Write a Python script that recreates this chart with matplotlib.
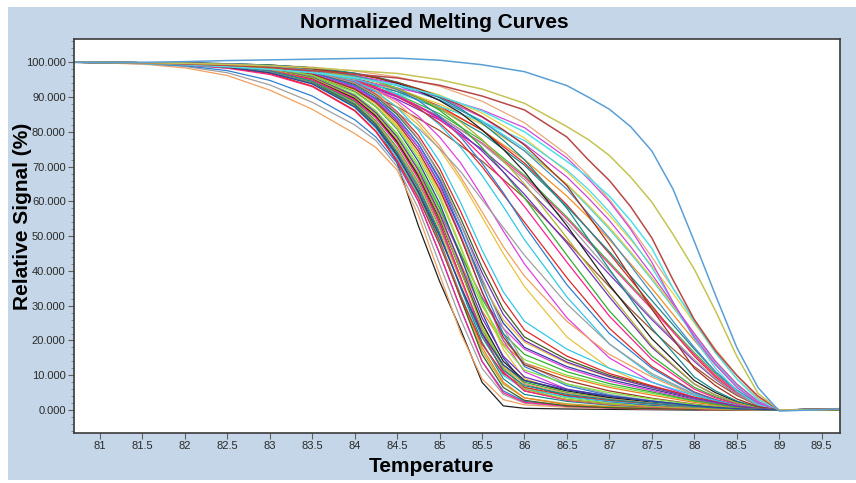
import matplotlib
matplotlib.use('Agg')
import matplotlib.pyplot as plt
from matplotlib.patches import Rectangle
from matplotlib.ticker import MultipleLocator


# temperature grid the early curves were read at
temps = [80.7, 81.5, 82.0, 82.5, 83.0, 83.5, 84.0, 84.25, 84.5, 84.75, 85.0, 85.25,
         85.5, 85.75, 86.0, 86.5, 87.0, 87.5, 88.0, 88.25, 88.5, 88.75, 89.0, 89.7]

# finer grid on the right for the late curves
late_temps = [80.7, 81.5, 82.0, 82.5, 83.0, 83.5, 84.0, 84.5, 85.0, 85.5, 86.0, 86.5,
              86.75, 87.0, 87.25, 87.5, 87.75, 88.0, 88.25, 88.5, 88.75, 89.0, 89.7]

# steep bundle, melting around 84.8 - 85.3
steep_curves = [
	[100, 99.8, 99.4, 98.6, 97.2, 94.5, 88.5, 82, 71, 53, 37, 23, 8, 1.2, 0.5, 0.3, 0.2, 0.1, 0, 0, 0, 0, 0, 0.1],
	[100, 99.5, 98.4, 96.2, 92, 86.5, 79.5, 75.5, 69, 56, 39, 22, 9, 3, 1.5, 0.8, 0.5, 0.3, 0.2, 0.1, 0, 0, 0, 0.2],
	[100, 99.6, 98.8, 97, 93.5, 88.5, 82, 77.5, 70, 58, 42, 26, 12, 4.5, 2, 1, 0.6, 0.4, 0.2, 0.1, 0, 0, 0, 0.3],
	[100, 99.7, 99.0, 97.6, 94.8, 90.3, 83.5, 78.5, 71, 60, 45, 29, 14, 5.5, 2.5, 1.2, 0.7, 0.4, 0.2, 0.1, 0, 0, 0, 0.4],
	[100, 99.8, 99.3, 98.3, 96.5, 93, 86, 80, 71.5, 60, 45, 29, 14, 5, 2.2, 1.1, 0.6, 0.3, 0.2, 0.1, 0, 0, 0, 0.2],
	[100, 99.8, 99.4, 98.6, 97, 94, 87.5, 81.5, 73, 62, 48, 32, 17, 7.5, 3.5, 1.8, 1, 0.6, 0.3, 0.2, 0.1, 0, 0, 0.3],
	[100, 99.9, 99.5, 98.8, 97.4, 94.7, 88.8, 83, 75, 64.5, 51, 35, 19.5, 9, 4.5, 2.5, 1.4, 0.8, 0.4, 0.2, 0.1, 0, 0, 0.1],
	[100, 99.9, 99.6, 99, 97.8, 95.3, 89.8, 84.5, 77, 67, 54, 38, 22, 11, 5.5, 3, 1.8, 1, 0.5, 0.3, 0.2, 0.1, 0, 0.4],
	[100, 99.9, 99.6, 99.1, 98.1, 95.8, 90.8, 86, 79, 69.5, 57, 41, 25, 12.5, 6.5, 3.5, 2, 1.2, 0.6, 0.4, 0.2, 0.1, 0, 0.2],
	[100, 99.9, 99.7, 99.2, 98.3, 96.2, 91.6, 87.2, 80.8, 71.5, 59.5, 44, 28, 15, 7.5, 4, 2.4, 1.4, 0.7, 0.4, 0.2, 0.1, 0, 0.3],
	[100, 99.9, 99.6, 99.0, 97.6, 94.8, 88.2, 82.5, 74, 63, 49, 33, 18, 8, 3.5, 1.5, 0.8, 0.5, 0.2, 0.1, 0, 0, 0, 0.2],
	[100, 99.8, 99.5, 98.8, 97.3, 94.2, 87.8, 82, 73.5, 62.5, 48.5, 32, 16, 6.5, 2.8, 1.2, 0.7, 0.4, 0.2, 0.1, 0, 0, 0, 0.1],
	[100, 99.9, 99.7, 99.3, 98.5, 96.5, 92, 88, 82, 73.5, 62, 47, 31, 17.5, 9, 5, 3, 1.8, 0.9, 0.5, 0.3, 0.1, 0, 0.3],
	[100, 99.9, 99.8, 99.4, 98.7, 96.9, 92.8, 89, 83.5, 75.5, 64.5, 50, 34, 20, 11, 6, 3.5, 2.1, 1, 0.6, 0.3, 0.1, 0, 0.2],
	[100, 99.9, 99.5, 98.7, 97.1, 93.8, 87, 81, 72.5, 61.5, 48, 33, 19, 10, 6, 3.8, 2.5, 1.6, 0.8, 0.5, 0.3, 0.1, 0, 0.4],
	[100, 99.8, 99.4, 98.5, 96.8, 93.2, 86.2, 80.2, 71.8, 61, 47.5, 32.5, 19, 10.5, 6.5, 4.2, 2.8, 1.8, 0.9, 0.6, 0.3, 0.1, 0, 0.2],
	[100, 99.9, 99.6, 98.9, 97.6, 94.6, 88.6, 83.2, 75.5, 65.5, 52.5, 37.5, 23, 13, 8, 5, 3.3, 2.1, 1.1, 0.7, 0.4, 0.2, 0, 0.3],
	[100, 99.9, 99.7, 99.2, 98.2, 95.7, 90.4, 85.5, 78.5, 69, 56.5, 41.5, 26.5, 15.5, 9.5, 6, 4, 2.5, 1.3, 0.8, 0.4, 0.2, 0, 0.2],
	[100, 99.9, 99.7, 99.2, 98.0, 95.3, 89.6, 84.5, 77.2, 67.5, 55, 40, 25, 14, 8.5, 5.5, 3.6, 2.3, 1.2, 0.7, 0.4, 0.2, 0, 0.1],
	[100, 99.8, 99.5, 98.8, 97.4, 94.4, 88.3, 82.8, 75, 65, 52, 37, 22.5, 12.5, 7.5, 4.8, 3.2, 2, 1, 0.6, 0.3, 0.1, 0, 0.3],
	[100, 99.9, 99.8, 99.5, 98.9, 97.4, 94, 90.5, 85.5, 78, 67.5, 53.5, 38, 23.5, 13.5, 7.5, 4.5, 2.7, 1.3, 0.8, 0.4, 0.2, 0, 0.2],
	[100, 99.9, 99.8, 99.5, 98.8, 97.1, 93.3, 89.6, 84.2, 76.5, 66, 52, 36, 22, 12.5, 7, 4.2, 2.5, 1.2, 0.7, 0.4, 0.2, 0, 0.3],
	[100, 99.9, 99.6, 99.0, 97.8, 95.0, 89.2, 84, 76.5, 66.5, 53.5, 38, 22, 11, 5.5, 2.8, 1.6, 0.9, 0.4, 0.2, 0.1, 0, 0, 0.2],
	[100, 99.9, 99.7, 99.1, 98.0, 95.5, 90, 85, 77.8, 68, 55.5, 40, 24, 12, 6, 3, 1.7, 1, 0.5, 0.3, 0.1, 0, 0, 0.1],
	[100, 99.8, 99.5, 98.9, 97.5, 94.5, 88, 82.3, 74.2, 63.8, 50.5, 35.5, 21, 11.5, 7, 4.5, 3, 1.9, 1, 0.6, 0.3, 0.1, 0, 0.4],
	[100, 99.9, 99.8, 99.4, 98.6, 96.6, 92.3, 88.4, 82.6, 74.5, 63.5, 49.5, 34, 21, 13, 8.5, 5.5, 3.4, 1.7, 1, 0.5, 0.2, 0, 0.3],
	[100, 99.9, 99.7, 99.3, 98.4, 96.2, 91.4, 87.2, 81, 72.5, 61, 46.5, 31, 18.5, 11.5, 7.5, 5, 3.2, 1.6, 1, 0.5, 0.2, 0, 0.2],
	[100, 99.8, 99.4, 98.6, 97, 93.8, 87.2, 81.4, 73.2, 62.8, 50, 35.5, 22, 13, 8.5, 5.8, 4, 2.6, 1.3, 0.8, 0.4, 0.2, 0, 0.3],
]

# steep start but long tails near the floor
tail_curves = [
	[100, 99.9, 99.7, 99.2, 98.2, 95.8, 90.6, 86, 79.5, 70.5, 58.5, 44, 30, 20, 14.5, 10, 7, 4.8, 2.5, 1.6, 0.8, 0.3, 0, 0.3],
	[100, 99.9, 99.8, 99.4, 98.6, 96.8, 92.6, 88.8, 83.2, 75.5, 65, 51.5, 37, 25, 18, 12.5, 8.8, 6, 3.2, 2, 1, 0.4, 0, 0.2],
	[100, 99.9, 99.6, 99.0, 97.8, 95.0, 89.4, 84.4, 77.4, 68, 56, 42, 28.5, 19, 13.5, 9.5, 6.5, 4.3, 2.2, 1.4, 0.7, 0.3, 0, 0.4],
	[100, 99.9, 99.8, 99.5, 98.8, 97.2, 93.6, 90.2, 85, 77.8, 68, 55, 41, 29, 21, 14.5, 10, 6.8, 3.6, 2.3, 1.2, 0.5, 0, 0.3],
	[100, 99.9, 99.7, 99.3, 98.4, 96.3, 91.6, 87.4, 81.5, 73.5, 63, 50, 36.5, 26, 19.5, 13.5, 9.5, 6.5, 3.4, 2.2, 1.1, 0.4, 0, 0.2],
	[100, 99.8, 99.5, 98.9, 97.6, 94.8, 89, 84, 77, 68, 57, 44.5, 32.5, 23.5, 17.5, 12, 8.3, 5.6, 2.9, 1.8, 0.9, 0.3, 0, 0.1],
	[100, 99.9, 99.8, 99.6, 99.0, 97.7, 94.6, 91.6, 87, 80.5, 71.5, 59.5, 46, 34, 25.5, 17.5, 12, 8, 4.2, 2.7, 1.4, 0.5, 0, 0.3],
	[100, 99.9, 99.8, 99.5, 98.9, 97.4, 94, 90.8, 85.8, 79, 69.5, 57, 43.5, 31.5, 23, 15.5, 10.5, 7, 3.7, 2.4, 1.2, 0.5, 0, 0.2],
	[100, 99.9, 99.7, 99.2, 98.1, 95.6, 90.2, 85.4, 78.6, 69.6, 58, 45, 32, 22, 16, 11, 7.6, 5.2, 2.7, 1.7, 0.9, 0.3, 0, 0.3],
	[100, 99.9, 99.8, 99.4, 98.7, 97.0, 93, 89.4, 84, 76.6, 66.5, 53.5, 39.5, 27.5, 20, 13.8, 9.6, 6.5, 3.4, 2.2, 1.1, 0.4, 0, 0.4],
]

# broader curves melting around 85.5 - 87
medium_curves = [
	[100, 99.9, 99.7, 99.2, 98.4, 96.8, 93.6, 91, 87.2, 82, 75, 66, 55.5, 45, 35.5, 21, 12, 6.5, 3, 1.8, 0.9, 0.3, 0, 0.3],
	[100, 99.9, 99.7, 99.3, 98.6, 97.2, 94.4, 92.2, 89, 84.5, 78.5, 71, 61.5, 51.5, 42, 26.5, 15, 8, 3.6, 2.1, 1, 0.4, 0, 0.2],
	[100, 99.9, 99.8, 99.5, 98.9, 97.7, 95.3, 93.5, 90.8, 87, 82, 75.5, 67.5, 58.5, 49, 32.5, 19, 10, 4.4, 2.6, 1.3, 0.5, 0, 0.3],
	[100, 99.9, 99.7, 99.3, 98.6, 97.2, 94.6, 92.8, 90.2, 86.8, 82.5, 77, 70, 62, 54, 38, 23.5, 12.5, 5.2, 3, 1.5, 0.5, 0, 0.4],
	[100, 99.9, 99.8, 99.5, 99, 98, 96, 94.6, 92.6, 89.8, 86.2, 81.5, 75.5, 68.5, 61, 44.5, 28.5, 15.5, 6.5, 3.8, 1.8, 0.6, 0, 0.2],
	[100, 99.8, 99.5, 99, 98.1, 96.6, 94, 92.4, 90.2, 87.4, 84, 79.8, 74.5, 68.5, 62, 48, 32.5, 18, 7.5, 4.3, 2.1, 0.7, 0, 0.3],
	[100, 99.9, 99.8, 99.6, 99.2, 98.4, 96.8, 95.6, 94, 91.8, 89, 85.4, 80.6, 75, 68.5, 53, 36, 20.5, 8.5, 5, 2.4, 0.8, 0, 0.3],
	[100, 99.9, 99.8, 99.4, 98.8, 97.4, 94.5, 92, 88.3, 83, 76, 67, 57, 47, 38.5, 25.5, 16, 9.5, 4.2, 2.5, 1.2, 0.4, 0, 0.2],
	[100, 99.8, 99.4, 98.7, 97.5, 95.3, 91.6, 89, 85.5, 81, 75.2, 68.5, 60.5, 52.5, 44.5, 30.5, 19, 10.5, 4.6, 2.7, 1.3, 0.5, 0, 0.3],
	[100, 99.9, 99.8, 99.5, 99, 98, 96, 94.5, 92.2, 89, 84.5, 78.5, 71, 62.5, 53, 36, 22, 12, 5, 2.9, 1.4, 0.5, 0, 0.4],
	[100, 99.9, 99.7, 99.2, 98.4, 97, 94.4, 92.7, 90.4, 87.4, 83.6, 79, 73, 66, 58.5, 42.5, 27, 14.5, 6, 3.5, 1.7, 0.6, 0, 0.2],
	[100, 99.9, 99.7, 99.4, 98.8, 97.8, 95.8, 94.4, 92.5, 90, 86.8, 82.8, 77.8, 71.8, 65, 49.5, 33.5, 18.5, 7.5, 4.3, 2.1, 0.7, 0, 0.3],
	[100, 99.9, 99.8, 99.6, 99.2, 98.4, 96.9, 95.8, 94.3, 92.3, 89.8, 86.6, 82.5, 77.6, 72, 58, 40.5, 23.5, 9.5, 5.5, 2.6, 0.9, 0, 0.3],
	[100, 99.9, 99.8, 99.5, 99, 98.1, 96.6, 95.6, 94.2, 92.4, 90.2, 87.6, 84.4, 80.6, 76.2, 64.5, 47.5, 29, 12, 7, 3.2, 1, 0, 0.2],
]

# fan of late curves (late_temps grid), 50 % between 86.8 and 88
fan_curves = [
	[100, 99.8, 99.5, 99.0, 98.2, 96.9, 94.8, 91.6, 87.0, 80.5, 72, 61.5, 55.5, 49, 42, 35, 27.5, 20, 13, 7, 2.3, 0, 0.3],
	[100, 99.9, 99.6, 99.1, 98.3, 97, 94.6, 90.8, 85.2, 77.5, 67.5, 55.5, 49, 42.5, 36, 29.5, 23, 16.5, 10.5, 5.5, 1.8, 0, 0.2],
	[100, 99.9, 99.7, 99.3, 98.6, 97.4, 95.4, 92.2, 87.4, 80.5, 71, 59, 52, 45, 37.5, 30, 22.5, 15.5, 9.5, 4.8, 1.5, 0, 0.3],
	[100, 99.8, 99.4, 98.8, 97.8, 96.2, 93.6, 89.4, 83.4, 75, 64.5, 52, 45.5, 39, 32.5, 26, 20, 14, 8.8, 4.5, 1.4, 0, 0.4],
	[100, 99.9, 99.8, 99.5, 99.0, 98.1, 96.6, 94.2, 90.6, 85.4, 78.2, 68.5, 62.5, 56, 49, 41.5, 33.5, 25, 16.5, 9, 3, 0, 0.2],
	[100, 99.9, 99.6, 99.2, 98.4, 97.2, 95, 91.6, 86.6, 79.6, 70.4, 58.5, 52, 45.5, 38.5, 31.5, 24.5, 17.5, 11, 5.8, 1.8, 0, 0.3],
	[100, 99.8, 99.5, 98.9, 97.9, 96.4, 93.9, 90, 84.4, 76.8, 67, 55, 48.5, 42, 35.5, 29, 22.5, 16, 10, 5.2, 1.6, 0, 0.3],
	[100, 99.9, 99.7, 99.4, 98.8, 97.8, 96.1, 93.3, 89.2, 83.2, 75.2, 64.8, 58.5, 52, 45, 37.5, 29.5, 21.5, 13.5, 7, 2.2, 0, 0.3],
	[100, 99.8, 99.4, 98.7, 97.5, 95.5, 92.2, 87.2, 80.4, 71.6, 61, 48.5, 42, 35.5, 29, 23, 17.5, 12.5, 8, 4.2, 1.3, 0, 0.2],
	[100, 99.9, 99.6, 99.1, 98.2, 96.8, 94.3, 90.2, 84.5, 76.5, 66.3, 54, 47, 40, 33, 26.5, 20.5, 14.5, 9, 4.6, 1.4, 0, 0.4],
	[100, 99.9, 99.8, 99.6, 99.2, 98.6, 97.5, 95.8, 93.1, 88.8, 82.6, 73.5, 67.5, 60.5, 52.5, 44, 35, 26, 17.5, 10, 3.5, 0, 0.3],
	[100, 99.8, 99.5, 99, 98.2, 97, 95, 92.3, 88, 82.2, 74.6, 65, 59, 52.5, 45.5, 38, 30, 22, 14, 7.5, 2.5, 0, 0.2],
	[100, 99.9, 99.7, 99.4, 98.8, 97.8, 96, 93.4, 89.2, 83, 74.5, 63.5, 56.5, 49.5, 41.5, 33.5, 25.5, 18, 11, 5.5, 1.6, 0, 0.4],
	[100, 99.9, 99.7, 99.3, 98.7, 97.8, 96.2, 93.9, 90, 84.2, 76.5, 67, 61, 54.5, 47, 39, 30.5, 22, 14, 7.5, 2.5, 0, 0.3],
	[100, 99.6, 99.1, 98.3, 97.2, 95.8, 93.8, 91.0, 87.3, 83.0, 77.5, 69, 63.5, 57, 49.5, 41, 31, 20.5, 12, 5.5, 1.5, 0, 0.4],
	[100, 99.6, 99.2, 98.5, 97.6, 96.4, 94.8, 92.6, 90.0, 86.3, 81.2, 72.5, 66.5, 60, 52, 42.5, 31, 21, 13, 6.5, 2, 0, 0.3],
]
fan_colors = ['#f09020', '#40b840', '#e02828', '#8030c0', '#e8d040', '#1a8a8a',
              '#ff3090', '#40d8e8', '#a05030', '#a0a0a0', '#e8a878', '#e0c838',
              '#4a8cc8', '#c848d8', '#48d8e8', '#d048e0']

# the four right-most curves: cyan, red-brown, olive, blue
top_curves = [
	[100, 99.7, 99.3, 98.7, 98.0, 97.0, 95.6, 93.5, 90.3, 86.0, 80.0, 71.5, 67, 61.5, 54.5, 46.5, 35, 25.5, 16.5, 9, 3, 0, 0.3],
	[100, 99.8, 99.5, 99.1, 98.5, 97.6, 96.6, 95.5, 93.4, 90.3, 86.3, 78.5, 72, 66, 58.5, 49.5, 37.4, 26, 17, 10, 4, 0, 0.4],
	[100, 99.9, 99.7, 99.4, 99.0, 98.4, 97.6, 96.8, 95.0, 92.3, 88.2, 81.5, 77.8, 73.2, 67, 59.8, 50.5, 40.5, 28.5, 15.5, 4.8, 0, 0.2],
	[100, 100, 100.2, 100.5, 100.7, 100.9, 101.1, 101.2, 100.6, 99.3, 97.3, 93.3, 90.0, 86.5, 81.5, 74.5, 63.5, 48.5, 33.0, 18.0, 6.5, -0.3, 0.3],
]
top_colors = ['#50e0e8', '#b84848', '#c4c454', '#5a9fd6']

palette = ['#e8c33c', '#e040e0', '#30c8e8', '#e02828', '#30b030', '#7030c0',
           '#202020', '#f0a060', '#a0a0a0', '#2f7fd0', '#ff2090', '#b0b030',
           '#1a8a8a', '#a03020', '#80e040', '#3040a0', '#f08020', '#406020']

x_ticks = [81, 81.5, 82, 82.5, 83, 83.5, 84, 84.5, 85, 85.5, 86, 86.5, 87, 87.5,
           88, 88.5, 89, 89.5]
x_labels = ['81', '81.5', '82', '82.5', '83', '83.5', '84', '84.5', '85', '85.5',
            '86', '86.5', '87', '87.5', '88', '88.5', '89', '89.5']
y_ticks = [0, 10, 20, 30, 40, 50, 60, 70, 80, 90, 100]


def main():
	plt.rcParams['font.family'] = ['Liberation Sans', 'DejaVu Sans']

	fig = plt.figure(figsize=(8.56, 4.83), dpi=100, facecolor='white')
	# light blue panel behind everything
	fig.patches.append(Rectangle((8 / 856, 3 / 483), 848 / 856, 473 / 483,
	                             transform=fig.transFigure, facecolor='#c4d6e7',
	                             edgecolor='none', zorder=-5))

	ax = fig.add_axes([74 / 856, 50 / 483, 766 / 856, 394 / 483])
	ax.set_zorder(1)
	ax.set_facecolor('white')

	for vals, c in zip(fan_curves, fan_colors):
		ax.plot(late_temps, vals, color=c, lw=0.9)
	i = 0
	for group in (medium_curves, tail_curves, steep_curves):
		for vals in group:
			ax.plot(temps, vals, color=palette[i % len(palette)], lw=0.9)
			i += 1
	for vals, c in zip(top_curves, top_colors):
		ax.plot(late_temps, vals, color=c, lw=1.1)

	ax.set_xlim(80.694, 89.716)
	ax.set_ylim(-6.6, 106.7)
	ax.set_xticks(x_ticks)
	ax.set_xticklabels(x_labels)
	ax.set_yticks(y_ticks)
	ax.set_yticklabels(['%.3f' % v for v in y_ticks])
	ax.yaxis.set_minor_locator(MultipleLocator(2))
	ax.tick_params(axis='both', which='major', direction='out', length=4,
	               width=0.8, color='#606060', labelsize=8, labelcolor='#2a2a2a', pad=2)
	ax.tick_params(axis='y', which='minor', direction='out', length=2,
	               width=0.6, color='#808080')
	for side in ax.spines:
		ax.spines[side].set_color('#3a3a3a')
		ax.spines[side].set_linewidth(1.2)

	fig.text(434 / 856, 1 - 22 / 483, 'Normalized Melting Curves', ha='center',
	         va='center', fontsize=15, fontweight='bold')
	fig.text(432 / 856, 1 - 467 / 483, 'Temperature', ha='center', va='center',
	         fontsize=15, fontweight='bold')
	fig.text(23 / 856, 1 - 216 / 483, 'Relative Signal (%)', ha='center',
	         va='center', rotation=90, fontsize=15, fontweight='bold')

	fig.savefig('out.png', dpi=100, facecolor='white')


if __name__ == '__main__':
	main()
